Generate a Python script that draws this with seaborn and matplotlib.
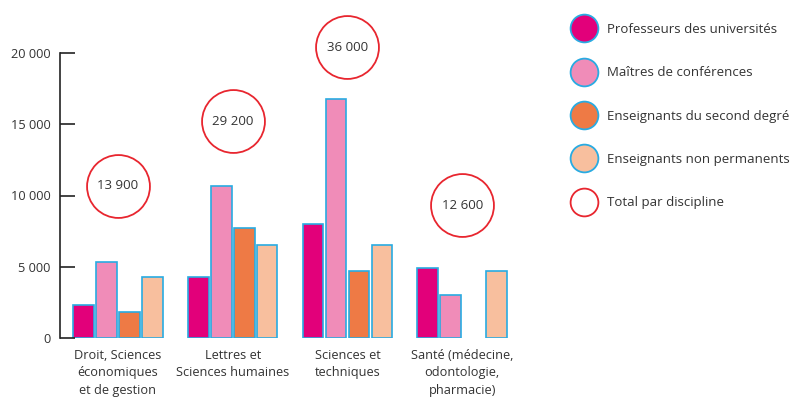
import seaborn as sns
import matplotlib.pyplot as plt
import pandas as pd
from matplotlib.lines import Line2D
from matplotlib.ticker import FuncFormatter

disciplines = ['Droit, Sciences\néconomiques\net de gestion',
               'Lettres et\nSciences humaines',
               'Sciences et\ntechniques',
               'Santé (médecine,\nodontologie,\npharmacie)']
categories = ['Professeurs des universités', 'Maîtres de conférences',
              'Enseignants du second degré', 'Enseignants non permanents']
profs = [2300, 4300, 8000, 4900]
mcf = [5300, 10700, 16800, 3000]
second = [1800, 7700, 4700, None]
non_perm = [4300, 6500, 6500, 4700]
totals = ['13 900', '29 200', '36 000', '12 600']
total_y = [10700, 15200, 20400, 9300]

colors = ['#e2007a', '#f08cb8', '#ee7a45', '#f8bf9e']
edge = '#29abe2'
red = '#e8262f'
txt = '#333333'

rows = []
for cat, vals in zip(categories, [profs, mcf, second, non_perm]):
    for d, v in zip(disciplines, vals):
        if v is not None:
            rows.append({'discipline': d, 'type': cat, 'n': v})
df = pd.DataFrame(rows)

plt.rcParams['font.family'] = ['Open Sans', 'DejaVu Sans']
fig = plt.figure(figsize=(7.95, 3.97), dpi=100)
ax = fig.add_axes([60/795, 59/397, 455/795, 285/397])

sns.barplot(data=df, x='discipline', y='n', hue='type', order=disciplines,
            hue_order=categories, palette=colors, saturation=1, width=0.8, gap=0.1,
            edgecolor=edge, linewidth=1.2, ax=ax, legend=False)

ax.set_xlim(-0.505, 3.46)
ax.set_ylim(0, 20000)
ax.set_yticks([0, 5000, 10000, 15000, 20000])
ax.yaxis.set_major_formatter(FuncFormatter(lambda v, p: f'{int(v):,}'.replace(',', ' ')))
for s in ['top', 'right', 'bottom']:
    ax.spines[s].set_visible(False)
ax.spines['left'].set_color('#222222')
ax.spines['left'].set_linewidth(1.2)
ax.tick_params(axis='y', direction='in', length=11, width=1.2, color='#222222',
               labelsize=9.2, labelcolor=txt, pad=7)
ax.tick_params(axis='x', length=0, labelsize=9.2, labelcolor=txt, pad=8)
for lab in ax.get_xticklabels():
    lab.set_linespacing(1.42)
ax.set_xlabel('')
ax.set_ylabel('')

ax.scatter(range(4), total_y, s=2050, facecolor='white', edgecolor=red,
           linewidth=1.3, zorder=5, clip_on=False)
for i, (t, y) in enumerate(zip(totals, total_y)):
    ax.text(i, y, t, ha='center', va='center', fontsize=9.5, color=txt,
            zorder=6, clip_on=False)

handles = [Line2D([], [], marker='o', linestyle='', markersize=20,
                  markerfacecolor=c, markeredgecolor=edge, markeredgewidth=1.3)
           for c in colors]
handles.append(Line2D([], [], marker='o', linestyle='', markersize=20,
                      markerfacecolor='white', markeredgecolor=red,
                      markeredgewidth=1.3))
leg = fig.legend(handles, categories + ['Total par discipline'],
                 loc='upper left', bbox_to_anchor=(562/795, 1 - 11/397),
                 frameon=False, fontsize=9.5, labelspacing=2.3,
                 handletextpad=1.0, handlelength=1.5)
for t in leg.get_texts():
    t.set_color(txt)

fig.savefig('out.png', dpi=100)
